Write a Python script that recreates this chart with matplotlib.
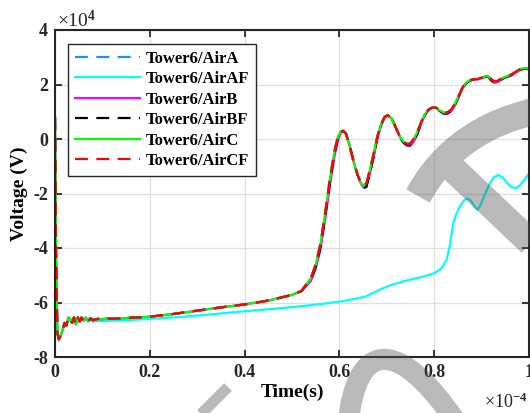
import matplotlib
matplotlib.use("Agg")
import matplotlib.pyplot as plt
from matplotlib.path import Path
from matplotlib.patches import PathPatch

# ---------------------------------------------------------------- data
# time in units of 1e-4 s, voltage in units of 1e4 V
t_main = [0.000, 0.002, 0.005, 0.008, 0.012, 0.016, 0.020, 0.024, 0.028, 0.032,
          0.036, 0.040, 0.044, 0.048, 0.052, 0.056, 0.060, 0.065, 0.070, 0.075,
          0.080, 0.090, 0.100, 0.110, 0.120, 0.150, 0.200, 0.250, 0.300, 0.350,
          0.400, 0.450, 0.500, 0.520, 0.540, 0.550, 0.560, 0.570, 0.580, 0.590,
          0.597, 0.603, 0.608, 0.614, 0.622, 0.630, 0.638, 0.645, 0.651, 0.657,
          0.664, 0.672, 0.680, 0.688, 0.695, 0.702, 0.710, 0.718, 0.726, 0.734,
          0.742, 0.749, 0.756, 0.764, 0.772, 0.780, 0.788, 0.796, 0.804, 0.812,
          0.820, 0.828, 0.836, 0.844, 0.852, 0.860, 0.868, 0.876, 0.884, 0.892,
          0.900, 0.908, 0.914, 0.920, 0.926, 0.932, 0.940, 0.948, 0.956, 0.964,
          0.972, 0.980, 0.988, 1.000]

v_air_a = [0.80, -4.00, -7.10, -7.35, -7.20, -7.00, -6.75, -6.85, -6.55, -6.60,
           -6.75, -6.55, -6.80, -6.55, -6.70, -6.55, -6.65, -6.55, -6.68, -6.58,
           -6.65, -6.60, -6.62, -6.58, -6.60, -6.57, -6.52, -6.42, -6.30, -6.18,
           -6.07, -5.93, -5.72, -5.57, -5.10, -4.60, -3.85, -2.70, -1.45, -0.40,
           0.10, 0.28, 0.30, 0.18, -0.30, -0.85, -1.30, -1.60, -1.72, -1.62,
           -1.15, -0.55, 0.10, 0.55, 0.80, 0.88, 0.75, 0.45, 0.15, -0.08,
           -0.18, -0.17, -0.02, 0.25, 0.60, 0.90, 1.08, 1.16, 1.15, 1.05,
           0.97, 0.98, 1.08, 1.30, 1.60, 1.90, 2.08, 2.16, 2.20, 2.20,
           2.25, 2.30, 2.30, 2.20, 2.12, 2.12, 2.20, 2.27, 2.32, 2.38,
           2.47, 2.55, 2.60, 2.60]

v_air_b = [0.80, -4.00, -7.10, -7.35, -7.20, -7.00, -6.75, -6.85, -6.55, -6.60,
           -6.75, -6.55, -6.80, -6.55, -6.70, -6.55, -6.65, -6.55, -6.68, -6.58,
           -6.65, -6.60, -6.62, -6.58, -6.60, -6.57, -6.52, -6.42, -6.30, -6.18,
           -6.07, -5.93, -5.72, -5.59, -5.20, -4.75, -4.05, -2.95, -1.70, -0.60,
           -0.05, 0.22, 0.29, 0.20, -0.25, -0.82, -1.30, -1.62, -1.78, -1.72,
           -1.30, -0.70, 0.00, 0.50, 0.78, 0.87, 0.76, 0.46, 0.13, -0.12,
           -0.24, -0.25, -0.12, 0.15, 0.54, 0.86, 1.06, 1.15, 1.14, 1.02,
           0.92, 0.93, 1.02, 1.24, 1.55, 1.86, 2.05, 2.14, 2.18, 2.19,
           2.23, 2.28, 2.28, 2.15, 2.06, 2.08, 2.15, 2.24, 2.28, 2.34,
           2.43, 2.52, 2.57, 2.58]

v_air_bf = [0.80, -4.00, -7.10, -7.35, -7.20, -7.00, -6.75, -6.85, -6.55, -6.60,
            -6.75, -6.55, -6.80, -6.55, -6.70, -6.55, -6.65, -6.55, -6.68, -6.58,
            -6.65, -6.60, -6.62, -6.58, -6.60, -6.57, -6.52, -6.42, -6.30, -6.18,
            -6.07, -5.93, -5.72, -5.58, -5.15, -4.70, -3.97, -2.85, -1.58, -0.50,
            0.03, 0.25, 0.30, 0.20, -0.26, -0.82, -1.30, -1.63, -1.80, -1.76,
            -1.28, -0.65, 0.04, 0.52, 0.79, 0.88, 0.76, 0.46, 0.14, -0.11,
            -0.22, -0.23, -0.10, 0.18, 0.56, 0.88, 1.07, 1.16, 1.15, 1.03,
            0.94, 0.94, 1.03, 1.26, 1.57, 1.88, 2.06, 2.15, 2.19, 2.19,
            2.24, 2.29, 2.29, 2.16, 2.08, 2.08, 2.17, 2.25, 2.30, 2.36,
            2.45, 2.53, 2.58, 2.59]

v_air_c = v_air_a   # phase C and its fault case follow phase A here
v_air_cf = v_air_a

t_air_af = [0.000, 0.002, 0.005, 0.008, 0.012, 0.016, 0.020, 0.024, 0.028, 0.032,
            0.036, 0.040, 0.044, 0.048, 0.052, 0.056, 0.060, 0.065, 0.070, 0.075,
            0.080, 0.090, 0.100, 0.120, 0.150, 0.200, 0.250, 0.300, 0.350, 0.400,
            0.450, 0.500, 0.550, 0.600, 0.654, 0.686, 0.710, 0.738, 0.760, 0.781,
            0.800, 0.815, 0.826, 0.833, 0.840, 0.847, 0.855, 0.863, 0.870, 0.877,
            0.884, 0.891, 0.897, 0.904, 0.911, 0.918, 0.926, 0.935, 0.944, 0.952,
            0.962, 0.972, 0.981, 0.990, 1.000]

v_air_af = [-2.00, -4.50, -7.20, -7.40, -7.25, -7.05, -6.80, -6.85, -6.60, -6.65,
            -6.75, -6.60, -6.78, -6.60, -6.70, -6.62, -6.68, -6.62, -6.70, -6.65,
            -6.70, -6.68, -6.68, -6.67, -6.65, -6.60, -6.55, -6.48, -6.40, -6.32,
            -6.25, -6.17, -6.08, -5.97, -5.79, -5.52, -5.35, -5.21, -5.12, -5.03,
            -4.92, -4.75, -4.44, -3.90, -3.10, -2.73, -2.45, -2.25, -2.18, -2.25,
            -2.45, -2.60, -2.45, -2.15, -1.87, -1.60, -1.40, -1.32, -1.40, -1.58,
            -1.75, -1.81, -1.70, -1.50, -1.26]

series_labels = ["Tower6/AirA", "Tower6/AirAF", "Tower6/AirB",
                 "Tower6/AirBF", "Tower6/AirC", "Tower6/AirCF"]

x_ticks = [0, 0.2, 0.4, 0.6, 0.8, 1]
x_tick_labels = ["0", "0.2", "0.4", "0.6", "0.8", "1"]
y_ticks = [-8, -6, -4, -2, 0, 2, 4]
y_tick_labels = ["-8", "-6", "-4", "-2", "0", "2", "4"]

# ---------------------------------------------------------------- style
plt.rcParams["font.family"] = ["Liberation Serif", "DejaVu Serif"]
plt.rcParams["font.weight"] = "bold"
plt.rcParams["mathtext.fontset"] = "custom"
plt.rcParams["mathtext.rm"] = "Liberation Serif"
plt.rcParams["mathtext.it"] = "Liberation Serif:italic"
plt.rcParams["mathtext.bf"] = "Liberation Serif:bold"
plt.rcParams["axes.unicode_minus"] = False

W, H = 530, 413
fig = plt.figure(figsize=(W / 100, H / 100), dpi=100)
ax = fig.add_axes([55 / W, 1 - 357 / H, 474 / W, 327 / H])

dash = (0, (5.8, 3.8))
styles = [
    (t_main, v_air_a, "#1f8fff", dash),
    (t_air_af, v_air_af, "#00ffff", "-"),
    (t_main, v_air_b, "#ff00ff", "-"),
    (t_main, v_air_bf, "#000000", dash),
    (t_main, v_air_c, "#00ff00", "-"),
    (t_main, v_air_cf, "#ff0000", dash),
]
for label, (t, v, col, ls) in zip(series_labels, styles):
    ax.plot(t, v, color=col, ls=ls, lw=1.6, label=label)

ax.set_xlim(0, 1)
ax.set_ylim(-8, 4)
ax.set_xticks(x_ticks)
ax.set_xticklabels(x_tick_labels)
ax.set_yticks(y_ticks)
ax.set_yticklabels(y_tick_labels)
ax.grid(True, color="#dedede", lw=0.9)
ax.set_axisbelow(True)
for sp in ax.spines.values():
    sp.set_linewidth(1.5)
    sp.set_color("#262626")
ax.tick_params(direction="in", length=5, width=1.3, top=True, right=True,
               labelsize=13, pad=5, colors="#262626", labelcolor="#262626")

ax.set_xlabel("Time(s)", fontsize=14, fontweight="bold", labelpad=2)
ax.set_ylabel("Voltage (V)", fontsize=14, fontweight="bold", labelpad=4)

fig.text(57 / W, 1 - 27 / H, "×10$^{\\mathrm{4}}$", fontsize=14,
         fontweight="normal", ha="left", va="baseline", color="#262626")
fig.text(527 / W, 1 - 408 / H, "×10$^{\\mathrm{-4}}$", fontsize=13,
         fontweight="normal", ha="right", va="baseline", color="#262626")

leg = ax.legend(loc="upper left", bbox_to_anchor=(13 / 474, (357 - 44) / 327),
                borderaxespad=0, prop={"size": 12, "weight": "bold"},
                handlelength=3.9, handletextpad=0.35, labelspacing=0.27,
                borderpad=0.4, fancybox=False, edgecolor="#262626",
                framealpha=1)
leg.get_frame().set_linewidth(1.0)

# ---------------------------------------------------------------- light grey overlay strokes
ov = fig.add_axes([0, 0, 1, 1], zorder=10)
ov.set_xlim(0, W)
ov.set_ylim(H, 0)
ov.axis("off")
ov.patch.set_alpha(0)

M, C3, C4, L = Path.MOVETO, Path.CURVE3, Path.CURVE4, Path.LINETO
grey = (0.32, 0.32, 0.32)
hook = Path([(418, 196), (455, 128), (540, 110), (452, 168), (548, 259)],
            [M, C3, C3, M, L])
ov.add_patch(PathPatch(hook, fill=False, lw=27 * 0.72, edgecolor=grey,
                       alpha=0.40, capstyle="butt", joinstyle="miter"))
arch = Path([(348, 425), (356, 340), (398, 335), (458, 425)], [M, C4, C4, C4])
ov.add_patch(PathPatch(arch, fill=False, lw=21 * 0.72, edgecolor=grey,
                       alpha=0.40, capstyle="butt"))
tick_mark = Path([(197, 418), (228, 387)], [M, L])
ov.add_patch(PathPatch(tick_mark, fill=False, lw=11 * 0.72, edgecolor=grey,
                       alpha=0.40, capstyle="butt"))

fig.savefig("out.png", dpi=100)
